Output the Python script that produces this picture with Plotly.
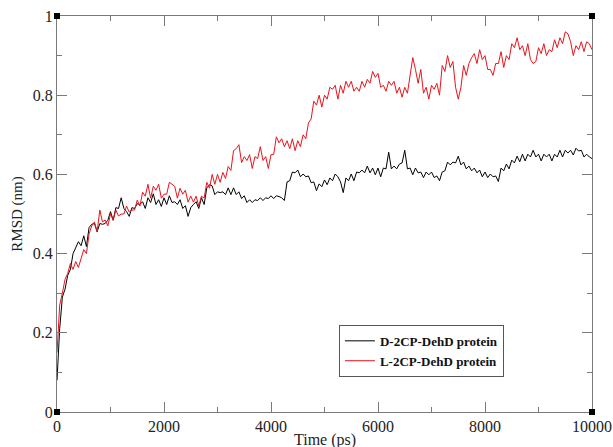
import numpy as np
import plotly.graph_objects as go

# Time axis (ps), 50 ps spacing
time_ps = np.linspace(0, 10000, 201)

rmsd_D = [
    0.08, 0.21, 0.29, 0.31, 0.345, 0.36, 0.40, 0.415, 0.43, 0.42,
    0.445, 0.418, 0.466, 0.474, 0.476, 0.455, 0.476, 0.474, 0.476, 0.484,
    0.506, 0.484, 0.516, 0.514, 0.541, 0.514, 0.506, 0.494, 0.516, 0.514,
    0.526, 0.524, 0.531, 0.514, 0.541, 0.529, 0.551, 0.524, 0.536, 0.519,
    0.541, 0.524, 0.546, 0.529, 0.531, 0.524, 0.536, 0.514, 0.521, 0.494,
    0.516, 0.524, 0.531, 0.514, 0.541, 0.524, 0.566, 0.574, 0.571, 0.549,
    0.556, 0.554, 0.556, 0.549, 0.566, 0.549, 0.566, 0.549, 0.556, 0.539,
    0.546, 0.529, 0.536, 0.529, 0.536, 0.534, 0.541, 0.534, 0.541, 0.539,
    0.546, 0.539, 0.546, 0.544, 0.541, 0.534, 0.581, 0.584, 0.606, 0.604,
    0.611, 0.594, 0.601, 0.594, 0.596, 0.579, 0.581, 0.559, 0.576, 0.569,
    0.586, 0.574, 0.591, 0.584, 0.601, 0.594, 0.581, 0.554, 0.591, 0.584,
    0.601, 0.584, 0.606, 0.604, 0.611, 0.604, 0.621, 0.604, 0.616, 0.599,
    0.616, 0.594, 0.616, 0.614, 0.656, 0.614, 0.621, 0.614, 0.626, 0.629,
    0.661, 0.614, 0.616, 0.599, 0.616, 0.604, 0.606, 0.592, 0.606, 0.599,
    0.606, 0.592, 0.596, 0.584, 0.606, 0.609, 0.631, 0.624, 0.631, 0.629,
    0.646, 0.624, 0.631, 0.614, 0.621, 0.609, 0.616, 0.604, 0.611, 0.594,
    0.606, 0.592, 0.601, 0.594, 0.596, 0.582, 0.616, 0.609, 0.626, 0.614,
    0.636, 0.629, 0.646, 0.632, 0.651, 0.634, 0.651, 0.644, 0.661, 0.644,
    0.651, 0.634, 0.651, 0.644, 0.651, 0.634, 0.651, 0.644, 0.661, 0.644,
    0.661, 0.654, 0.661, 0.649, 0.666, 0.659, 0.661, 0.644, 0.651, 0.644,
    0.64,
]

rmsd_L = [
    0.15, 0.27, 0.30, 0.335, 0.35, 0.375, 0.36, 0.38, 0.365, 0.39,
    0.41, 0.40, 0.45, 0.47, 0.48, 0.455, 0.51, 0.48, 0.485, 0.47,
    0.50, 0.485, 0.51, 0.495, 0.50, 0.50, 0.52, 0.505, 0.51, 0.51,
    0.535, 0.52, 0.555, 0.545, 0.575, 0.54, 0.57, 0.56, 0.575, 0.54,
    0.55, 0.55, 0.58, 0.575, 0.57, 0.54, 0.565, 0.55, 0.56, 0.53,
    0.545, 0.53, 0.545, 0.52, 0.545, 0.54, 0.58, 0.565, 0.60, 0.575,
    0.60, 0.58, 0.605, 0.59, 0.62, 0.61, 0.66, 0.665, 0.675, 0.63,
    0.645, 0.635, 0.65, 0.615, 0.645, 0.64, 0.67, 0.635, 0.645, 0.615,
    0.65, 0.65, 0.695, 0.68, 0.69, 0.67, 0.685, 0.665, 0.69, 0.66,
    0.685, 0.67, 0.70, 0.69, 0.73, 0.74, 0.785, 0.775, 0.80, 0.77,
    0.80, 0.79, 0.82, 0.815, 0.825, 0.79, 0.825, 0.805, 0.835, 0.82,
    0.835, 0.81, 0.82, 0.81, 0.835, 0.82, 0.84, 0.83, 0.86, 0.845,
    0.855, 0.82, 0.825, 0.81, 0.835, 0.825, 0.835, 0.805, 0.82, 0.795,
    0.82, 0.805, 0.85, 0.895, 0.865, 0.83, 0.865, 0.805, 0.82, 0.79,
    0.825, 0.815, 0.83, 0.80, 0.875, 0.86, 0.90, 0.87, 0.885, 0.82,
    0.79, 0.82, 0.875, 0.85, 0.88, 0.895, 0.905, 0.88, 0.915, 0.89,
    0.90, 0.865, 0.865, 0.85, 0.88, 0.88, 0.91, 0.87, 0.90, 0.89,
    0.93, 0.92, 0.945, 0.915, 0.925, 0.90, 0.93, 0.89, 0.88, 0.885,
    0.92, 0.905, 0.93, 0.90, 0.915, 0.91, 0.94, 0.92, 0.945, 0.93,
    0.96, 0.955, 0.935, 0.90, 0.925, 0.915, 0.935, 0.91, 0.935, 0.93,
    0.915,
]

series_names = ["D-2CP-DehD protein", "L-2CP-DehD protein"]
x_ticks = [0, 2000, 4000, 6000, 8000, 10000]
x_tick_labels = ["0", "2000", "4000", "6000", "8000", "10000"]
y_ticks = [0, 0.2, 0.4, 0.6, 0.8, 1]
y_tick_labels = ["0", "0.2", "0.4", "0.6", "0.8", "1"]

SERIF = "Liberation Serif"
AXIS_COLOR = "#7a7a7a"

fig = go.Figure()
fig.add_trace(go.Scatter(x=time_ps, y=rmsd_D, mode="lines", name=series_names[0],
                         line=dict(color="black", width=1)))
fig.add_trace(go.Scatter(x=time_ps, y=rmsd_L, mode="lines", name=series_names[1],
                         line=dict(color="#e8141c", width=1)))

axis_common = dict(
    showline=True, linecolor=AXIS_COLOR, linewidth=1.2, mirror="ticks",
    ticks="inside", ticklen=10, tickcolor=AXIS_COLOR, tickwidth=1,
    showgrid=False, zeroline=False, automargin=False,
    tickfont=dict(family=SERIF, size=16, color="#222"),
)

fig.update_xaxes(
    range=[0, 10000], tickvals=x_ticks, ticktext=x_tick_labels,
    minor=dict(dtick=1000, ticks="inside", ticklen=5, tickcolor=AXIS_COLOR, tickwidth=1),
    **axis_common,
)
fig.update_yaxes(
    range=[0, 1], tickvals=y_ticks, ticktext=y_tick_labels,
    minor=dict(dtick=0.1, ticks="inside", ticklen=5, tickcolor=AXIS_COLOR, tickwidth=1),
    title=dict(text="RMSD (nm)", font=dict(family=SERIF, size=15, color="#222"), standoff=6),
    **axis_common,
)

# x-axis title as annotation just below the tick labels
fig.add_annotation(text="Time (ps)", xref="paper", yref="paper", x=0.5, y=0,
                   yanchor="top", yshift=-17, showarrow=False,
                   font=dict(family=SERIF, size=16, color="#222"))

# small black squares at the four corners of the frame
shapes = []
for px in (0, 1):
    for py in (0, 1):
        shapes.append(dict(type="rect", xref="paper", yref="paper",
                           xsizemode="pixel", ysizemode="pixel",
                           xanchor=px, yanchor=py, x0=-3, x1=3, y0=-3, y1=3,
                           fillcolor="black", line=dict(width=0)))

fig.update_layout(
    width=613, height=447,
    margin=dict(l=57, r=21, t=16, b=35),
    paper_bgcolor="white", plot_bgcolor="white",
    shapes=shapes,
    showlegend=True,
    legend=dict(x=0.527, y=0.22, xanchor="left", yanchor="top",
                bordercolor="#555", borderwidth=1, bgcolor="white",
                font=dict(family=SERIF, size=13, color="#111", weight="bold"),
                itemwidth=30, tracegroupgap=0),
)

# remove the default page margin so the figure fills the window exactly
fig.write_html("out.html", config={"displayModeBar": False},
               post_script="document.body.style.margin='0';document.body.style.overflow='hidden';")
